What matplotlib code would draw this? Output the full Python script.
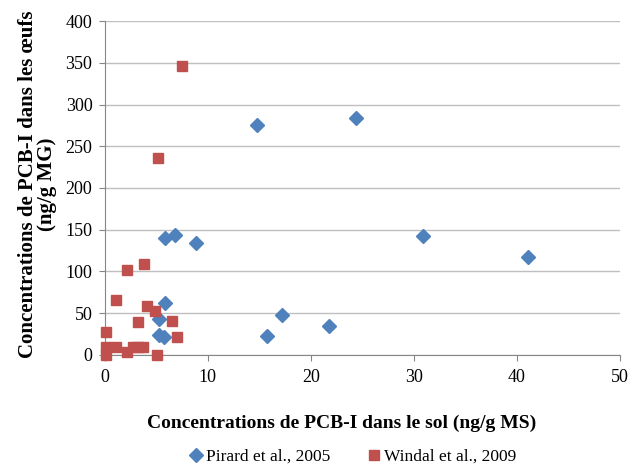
import matplotlib
matplotlib.use("Agg")
import matplotlib.pyplot as plt

pirard_x = [14.8, 24.4, 30.9, 41.1, 8.8, 6.8, 5.8, 5.8, 5.3, 5.3, 5.7, 17.2, 15.7, 21.8]
pirard_y = [275, 284, 143, 117, 134, 144, 140, 62, 43, 24, 21, 48, 23, 34]

windal_x = [7.5, 5.2, 2.1, 3.8, 1.1, 4.1, 4.9, 3.2, 6.5, 7.0, 0.1, 0.1, 0.1, 1.1, 2.1, 2.7, 3.2, 3.7, 5.1]
windal_y = [346, 236, 102, 109, 66, 59, 52, 39, 41, 21, 27, 10, 0, 10, 4, 10, 10, 10, 0]

labels = ["Pirard et al., 2005", "Windal et al., 2009"]

plt.rcParams['font.family'] = ['Liberation Serif', 'DejaVu Serif']

fig = plt.figure(figsize=(6.28, 4.70), dpi=100)
ax = fig.add_axes([0.167, 0.245, 0.82, 0.71])

ax.plot(pirard_x, pirard_y, linestyle='none', marker='D', markersize=7.5,
        color='#4F81BD', markeredgecolor='#4F81BD', label=labels[0], zorder=3,
        clip_on=False)
ax.plot(windal_x, windal_y, linestyle='none', marker='s', markersize=7,
        color='#C0504D', markeredgecolor='#C0504D', label=labels[1], zorder=3,
        clip_on=False)

ax.set_xlim(0, 50)
ax.set_ylim(0, 400)
ax.set_xticks(range(0, 51, 10))
ax.set_yticks(range(0, 401, 50))
ax.yaxis.grid(True, color='#bfbfbf', linewidth=1)
ax.set_axisbelow(True)
for s in ['top', 'right']:
    ax.spines[s].set_visible(False)
for s in ['left', 'bottom']:
    ax.spines[s].set_color('#868686')
ax.tick_params(axis='both', colors='#868686', labelcolor='black', labelsize=13, length=4)
ax.tick_params(axis='y', pad=5)
ax.tick_params(axis='x', pad=6)

ax.set_xlabel("Concentrations de PCB-I dans le sol (ng/g MS)", fontsize=14,
              fontweight='bold', labelpad=21)
ax.xaxis.label.set_x(0.46)
ax.set_ylabel("Concentrations de PCB-I dans les œufs\n(ng/g MG)", fontsize=15,
              fontweight='bold', labelpad=6, linespacing=0.95)
ax.yaxis.label.set_y(0.51)

fig.legend(loc='lower center', bbox_to_anchor=(0.56, -0.022), ncol=2, frameon=False,
           fontsize=12.5, handletextpad=0.1, columnspacing=2.0, handlelength=1.0)

fig.savefig("out.png", dpi=100)
